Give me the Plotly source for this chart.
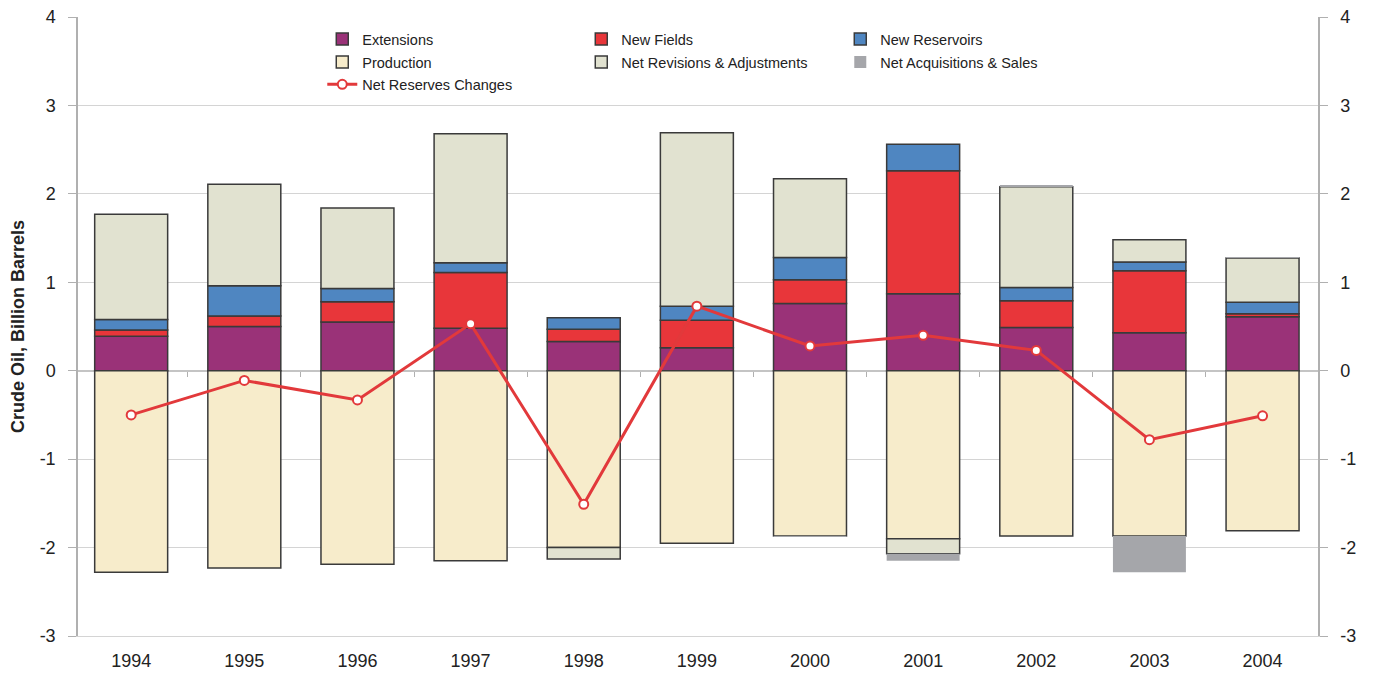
import plotly.graph_objects as go

years = ['1994', '1995', '1996', '1997', '1998', '1999', '2000', '2001', '2002', '2003', '2004']
extensions = [0.39, 0.50, 0.55, 0.48, 0.33, 0.26, 0.76, 0.87, 0.49, 0.43, 0.61]
new_fields = [0.07, 0.12, 0.23, 0.63, 0.14, 0.31, 0.27, 1.39, 0.30, 0.70, 0.035]
new_reservoirs = [0.12, 0.34, 0.15, 0.11, 0.13, 0.16, 0.25, 0.30, 0.15, 0.10, 0.13]
production = [-2.28, -2.23, -2.19, -2.15, -2.00, -1.95, -1.87, -1.90, -1.87, -1.87, -1.81]
revisions = [1.19, 1.15, 0.91, 1.46, -0.13, 1.96, 0.89, -0.17, 1.14, 0.25, 0.50]
acquisitions = [0.0, 0.0, 0.0, 0.0, 0.0, 0.0, -0.01, -0.08, 0.02, -0.41, 0.01]
net_changes = [-0.50, -0.11, -0.33, 0.53, -1.51, 0.73, 0.28, 0.40, 0.23, -0.78, -0.51]
y_ticks = [-3, -2, -1, 0, 1, 2, 3, 4]
y_ticklabels = ['-3', '-2', '-1', '0', '1', '2', '3', '4']

edge = '#3a3a3a'
x_range = [-0.47, 10.49]
fig = go.Figure()

def add_bar(y, name, color, legend, line_w=1.5):
    fig.add_trace(go.Bar(
        x=years, y=y, name=name, legend=legend,
        marker=dict(color=color, line=dict(color=edge if line_w else color, width=line_w))))

add_bar(extensions, 'Extensions', '#9a3278', 'legend')
add_bar(new_fields, 'New Fields', '#e8363a', 'legend')
add_bar(new_reservoirs, 'New Reservoirs', '#4f86c1', 'legend')
add_bar(production, 'Production', '#f7eccb', 'legend2')
add_bar(revisions, 'Net Revisions & Adjustments', '#e1e2d0', 'legend2')
add_bar(acquisitions, 'Net Acquisitions & Sales', '#a5a6aa', 'legend2', line_w=0)

fig.add_trace(go.Scatter(
    x=years, y=net_changes, name='Net Reserves Changes', legend='legend3',
    mode='lines+markers',
    line=dict(color='#e2393b', width=3),
    marker=dict(symbol='circle', size=9, color='white', line=dict(color='#e2393b', width=2))))

# invisible axis to draw the small category ticks along the zero line
fig.add_trace(go.Scatter(x=[0], y=[0], xaxis='x2', mode='markers',
                         marker=dict(opacity=0), showlegend=False, hoverinfo='skip'))
fig.add_trace(go.Scatter(x=years, y=net_changes, yaxis='y2', mode='markers',
                         marker=dict(opacity=0), showlegend=False, hoverinfo='skip'))

leg = dict(orientation='h', xanchor='left', yanchor='top', entrywidth=214,
           bgcolor='rgba(0,0,0,0)', font=dict(family='Arial', size=14.5, color='#222'),
           itemwidth=30, tracegroupgap=0)

yax = dict(range=[-3, 4], tickvals=y_ticks, ticktext=y_ticklabels, automargin=False,
           showline=True, linecolor='#b0b0b0', linewidth=1.5,
           ticks='outside', ticklen=8, tickcolor='#b0b0b0', tickfont=dict(size=18),
           ticklabelstandoff=9, ticklabeloverflow='allow')

# page body adds an 8px offset, so the figure is 16px smaller than the window
fig.update_layout(
    width=1361, height=662,
    margin=dict(l=70, r=51, t=9, b=34, autoexpand=False),
    plot_bgcolor='white', paper_bgcolor='white',
    barmode='relative', bargap=0.355,
    font=dict(family='Arial', size=17, color='#222'),
    legend=dict(leg, x=0.197, y=0.99),
    legend2=dict(leg, x=0.197, y=0.953),
    legend3=dict(leg, x=0.197, y=0.917),
    yaxis=dict(yax, showgrid=True, gridcolor='#d4d4d4',
               zeroline=True, zerolinecolor='#c4c4c4', zerolinewidth=1.5,
               title=dict(text='<b>Crude Oil, Billion Barrels</b>', font=dict(size=18), standoff=10)),
    yaxis2=dict(yax, overlaying='y', side='right', anchor='x', showgrid=False, zeroline=False),
    xaxis=dict(range=x_range, showline=True, linecolor='#d4d4d4', linewidth=1, automargin=False,
               ticks='outside', ticklen=8, tickcolor='rgba(0,0,0,0)', tickfont=dict(size=18)),
    xaxis2=dict(overlaying='x', anchor='free', position=3 / 7, range=x_range,
                tickvals=[i + 0.5 for i in range(10)], showticklabels=False,
                ticks='outside', ticklen=5, tickcolor='#b0b0b0', showline=False,
                showgrid=False, zeroline=False, automargin=False),
)

fig.write_html('out.html')
